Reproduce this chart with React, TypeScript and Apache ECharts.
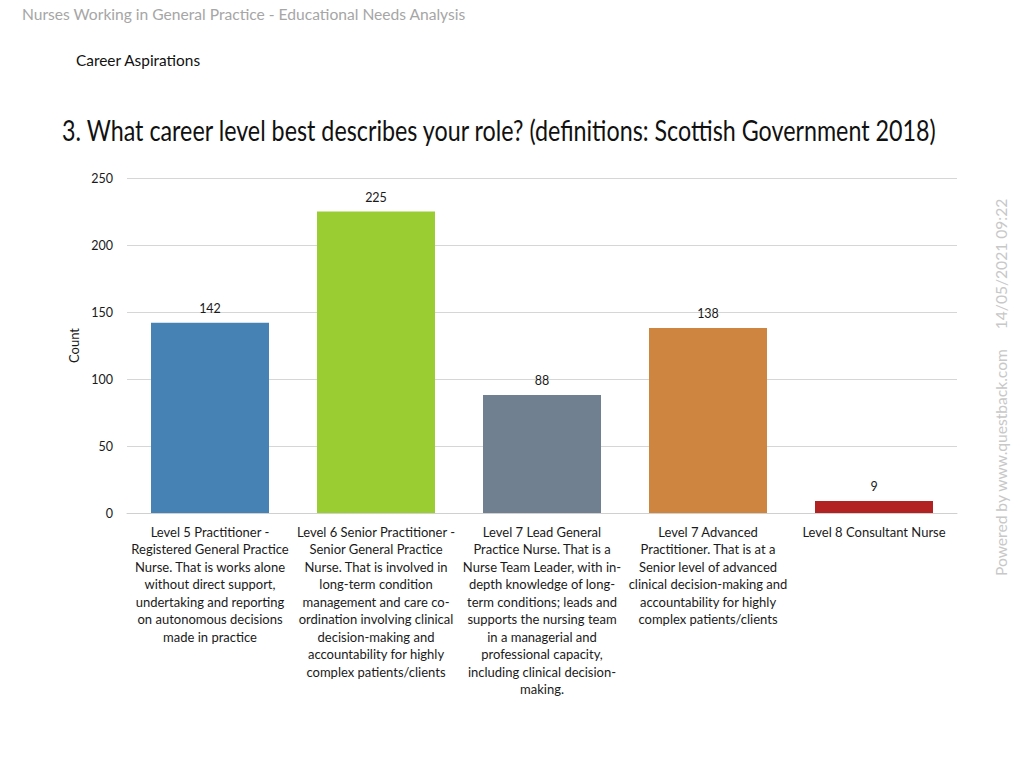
import React, { useEffect, useRef } from "react";
import * as echarts from "echarts";

const categories = [
  "Level 5 Practitioner -\nRegistered General Practice\nNurse. That is works alone\nwithout direct support,\nundertaking and reporting\non autonomous decisions\nmade in practice",
  "Level 6 Senior Practitioner -\nSenior General Practice\nNurse. That is involved in\nlong-term condition\nmanagement and care co-\nordination involving clinical\ndecision-making and\naccountability for highly\ncomplex patients/clients",
  "Level 7 Lead General\nPractice Nurse. That is a\nNurse Team Leader, with in-\ndepth knowledge of long-\nterm conditions; leads and\nsupports the nursing team\nin a managerial and\nprofessional capacity,\nincluding clinical decision-\nmaking.",
  "Level 7 Advanced\nPractitioner. That is at a\nSenior level of advanced\nclinical decision-making and\naccountability for highly\ncomplex patients/clients",
  "Level 8 Consultant Nurse",
];
const counts = [142, 225, 88, 138, 9];
const barColors = ["#4682B4", "#9ACD32", "#708090", "#CD853F", "#B22222"];
const yTicks = [0, 50, 100, 150, 200, 250];

const FONT = "Lato, 'Open Sans', sans-serif";

export default function App() {
  const ref = useRef<HTMLDivElement>(null);
  useEffect(() => {
    if (!ref.current) return;
    const chart = echarts.init(ref.current, undefined, { renderer: "svg" });
    const option = {
      animation: false,
      backgroundColor: "#ffffff",
      textStyle: { fontFamily: FONT },
      grid: { left: 127, right: 67, top: 178, bottom: 255, containLabel: false },
      xAxis: {
        type: "category",
        data: categories,
        axisLine: { show: true, lineStyle: { color: "#d0d0d0", width: 1 } },
        axisTick: { show: false },
        axisLabel: {
          interval: 0,
          margin: 10,
          fontSize: 13,
          lineHeight: 17.5,
          color: "#1a1a1a",
          fontFamily: FONT,
          align: "center",
        },
      },
      yAxis: {
        type: "value",
        min: yTicks[0],
        max: yTicks[yTicks.length - 1],
        interval: 50,
        name: "Count",
        nameLocation: "middle",
        nameGap: 42,
        nameRotate: 90,
        nameTextStyle: { fontSize: 13, color: "#1a1a1a", fontFamily: FONT },
        axisLine: { show: false },
        axisTick: { show: false },
        axisLabel: { fontSize: 12.5, color: "#1a1a1a", margin: 14, fontFamily: FONT },
        splitLine: { lineStyle: { color: "#d6d6d6", width: 1 } },
      },
      series: [
        {
          type: "bar",
          barWidth: 118,
          data: counts.map((v, i) => ({ value: v, itemStyle: { color: barColors[i] } })),
          label: {
            show: true,
            position: "top",
            distance: 8,
            fontSize: 12.5,
            color: "#1a1a1a",
            fontFamily: FONT,
          },
        },
      ],
      graphic: [
        {
          type: "text",
          left: 22,
          top: 6,
          style: {
            text: "Nurses Working in General Practice - Educational Needs Analysis",
            fontSize: 15.6,
            fill: "#a6a6a6",
            fontFamily: FONT,
          },
        },
        {
          type: "text",
          left: 76,
          top: 52,
          style: {
            text: "Career Aspirations",
            fontSize: 15.4,
            fill: "#111111",
            fontFamily: FONT,
          },
        },
        {
          type: "text",
          x: 62,
          y: 130,
          scaleX: 0.832,
          style: {
            text: "3. What career level best describes your role? (definitions: Scottish Government 2018)",
            fontSize: 28,
            fill: "#111111",
            fontFamily: FONT,
            textVerticalAlign: "middle",
            verticalAlign: "middle",
          },
        },
        {
          type: "text",
          x: 1001,
          y: 576,
          rotation: Math.PI / 2,
          style: {
            text: "Powered by www.questback.com     14/05/2021 09:22",
            fontSize: 15.6,
            fill: "#c8c8c8",
            fontFamily: FONT,
            verticalAlign: "middle",
          },
        },
      ],
    };
    chart.setOption(option as any);
    return () => chart.dispose();
  }, []);
  return (
    <div
      ref={ref}
      style={{ position: "fixed", left: 0, top: 0, width: 1024, height: 768 }}
    />
  );
}
